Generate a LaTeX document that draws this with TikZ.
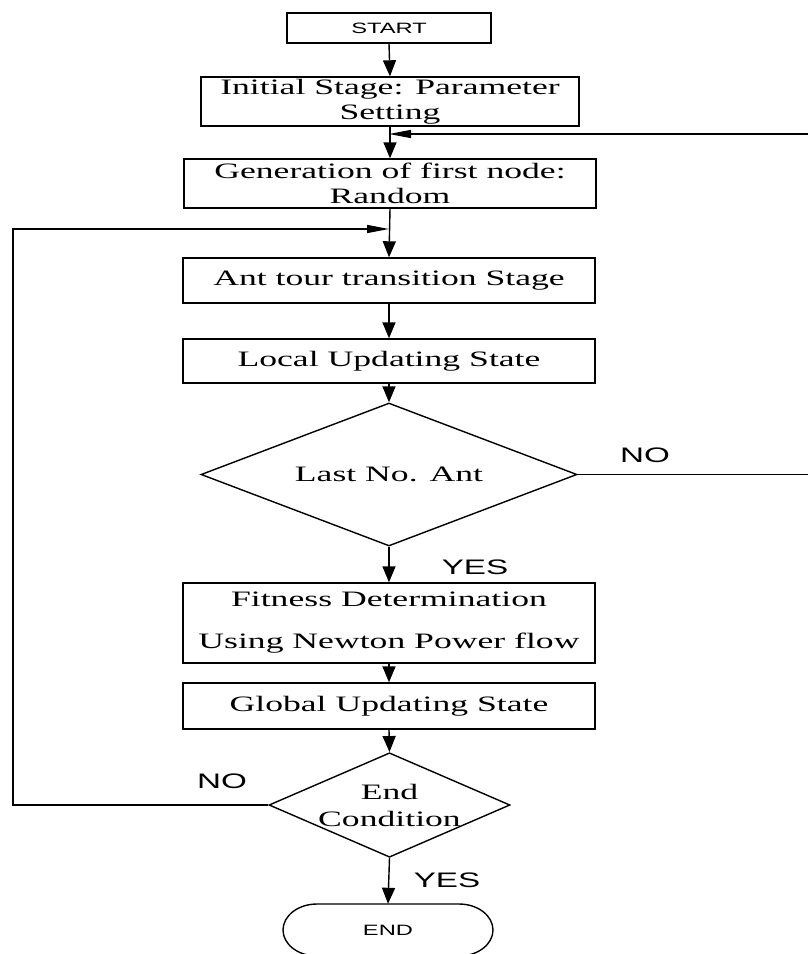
\documentclass[tikz,border=0pt]{standalone}
\usepackage{fontspec}
\usetikzlibrary{arrows.meta,shapes.geometric}
\newfontfamily\serifw{Liberation Serif}[FakeStretch=1.62]
\newfontfamily\sansw{Liberation Sans}[FakeStretch=1.58]
\tikzset{
  box/.style={draw, line width=1.4pt, inner sep=0pt, align=center, font=\serifw\fontsize{22}{25}\selectfont},
  dia/.style={draw, diamond, line width=1.4pt, inner sep=0pt, align=center, font=\serifw\fontsize{22}{27}\selectfont},
  lbl/.style={font=\sansw\fontsize{21}{24}\selectfont, inner sep=0pt},
  small/.style={font=\sansw\fontsize{15}{18}\selectfont},
  varr/.style={line width=1.4pt, -{Triangle[length=16pt,width=13pt]}},
  harr/.style={line width=1.4pt, -{Triangle[length=22pt,width=8pt]}},
  ln/.style={line width=1.4pt}
}
\begin{document}
\begin{tikzpicture}[x=1pt,y=-1pt]
\useasboundingbox (0,0) rectangle (808,954);
\clip (0,0) rectangle (808,954);
\fill[white] (0,0) rectangle (808,954);

\node[box, small, minimum width=204pt, minimum height=30pt] (start) at (389,28) {START};
\node[box, minimum width=378pt, minimum height=49pt] (init) at (390,101.5) {Initial Stage: Parameter\\Setting};
\node[box, minimum width=412pt, minimum height=49pt] (gen) at (390,183.5) {Generation of first node:\\Random};
\node[box, minimum width=412pt, minimum height=45pt] (ant) at (389,280.5) {Ant tour transition Stage};
\node[box, minimum width=412pt, minimum height=44pt] (local) at (389,361) {Local Updating State};
\node[dia, aspect=2.63, minimum width=376pt, minimum height=143pt] (d1) at (389,474.5) {Last No. Ant};
\node[box, font=\serifw\fontsize{22}{42}\selectfont, minimum width=412pt, minimum height=80pt] (fit) at (389,623) {Fitness Determination\\Using Newton Power flow};
\node[box, minimum width=412pt, minimum height=46pt] (glob) at (389,706) {Global Updating State};
\node[dia, aspect=2.3, minimum width=241pt, minimum height=104pt] (d2) at (389.5,805) {End\\Condition};
\node[small, minimum width=210pt, minimum height=52pt, inner sep=0pt] (endn) at (388,930) {END};
\draw[ln] (317,904) -- (459,904) arc[start angle=-90, end angle=90, x radius=34, y radius=26]
  -- (317,956) arc[start angle=90, end angle=270, x radius=34, y radius=26] -- cycle;

\node[lbl] (no1) at (645,455) {NO};
\node[lbl] (yes1) at (475,567) {YES};
\node[lbl] (no2) at (222,781) {NO};
\node[lbl] (yes2) at (447,880) {YES};

\coordinate (j1) at (389,134);
\coordinate (j2) at (389,229);
\coordinate (rt) at (812,134);
\coordinate (lt) at (13,229);

\draw[varr] (start.south) -- (init.north);
\draw[varr] (init.south) -- (gen.north);
\draw[varr] (gen.south) -- (ant.north);
\draw[varr] (ant.south) -- (local.north);
\draw[varr] (local.south) -- (d1.north);
\draw[varr] (d1.south) -- (fit.north);
\draw[varr] (fit.south) -- (glob.north);
\draw[varr] (glob.south) -- (d2.north);
\draw[varr] (d2.south) -- (endn.north);

\draw[harr] (d1.east) -| (rt) -- (j1);
\draw[harr] (d2.west) -| (lt) -- (j2);
\end{tikzpicture}
\end{document}
